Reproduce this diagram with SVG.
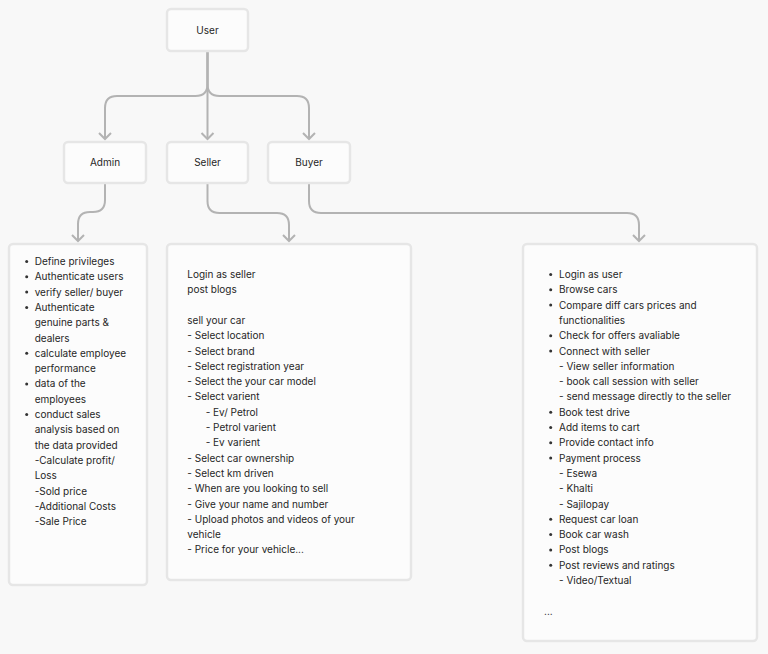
<svg xmlns="http://www.w3.org/2000/svg" width="768" height="654" viewBox="0 0 768 654">
<style>
.bg{fill:#f8f8f8}
.node rect{fill:#fcfcfc;stroke:#e6e6e6;stroke-width:2.5}
.lbl{font-family:Inter,"Liberation Sans",sans-serif;font-size:10px;fill:#262626;text-anchor:middle}
.t{font-family:Inter,"Liberation Sans",sans-serif;font-size:10px;fill:#262626}
.b{fill:#333}
.conn path{fill:none;stroke:#b3b3b3;stroke-width:2}
</style>
<defs>
<marker id="arr" markerUnits="userSpaceOnUse" markerWidth="16" markerHeight="16" viewBox="-8 -8 16 16" refX="0" refY="0" orient="auto">
<path d="M-6,-6 L0,0 L-6,6" fill="none" stroke="#b3b3b3" stroke-width="2"/>
</marker>
</defs>
<rect class="bg" x="0" y="0" width="768" height="654"/>
<g id="connectors" class="conn">
<path d="M207.5,51 V84 Q207.5,96 195.5,96 H117 Q105,96 105,108 V139" marker-end="url(#arr)"/>
<path d="M207.5,51 V139" marker-end="url(#arr)"/>
<path d="M207.5,51 V84 Q207.5,96 219.5,96 H297 Q309,96 309,108 V139" marker-end="url(#arr)"/>
<path d="M105,183 V200 Q105,212 93,212 H90 Q78,212 78,224 V241" marker-end="url(#arr)"/>
<path d="M207.5,183 V201 Q207.5,213 219.5,213 H277 Q289,213 289,225 V241" marker-end="url(#arr)"/>
<path d="M309,183 V201 Q309,213 321,213 H627 Q639,213 639,225 V241" marker-end="url(#arr)"/>
</g>
<g id="user" class="node"><rect x="167" y="9" width="81" height="42" rx="4"/><text class="lbl" x="207.5" y="33.5">User</text></g>
<g id="admin" class="node"><rect x="64" y="142" width="82" height="41" rx="4"/><text class="lbl" x="105" y="166">Admin</text></g>
<g id="seller" class="node"><rect x="167" y="142" width="81" height="41" rx="4"/><text class="lbl" x="207.5" y="166">Seller</text></g>
<g id="buyer" class="node"><rect x="268" y="142" width="82" height="41" rx="4"/><text class="lbl" x="309" y="166">Buyer</text></g>
<g id="admin-details" class="node">
<rect x="9" y="244" width="138" height="341" rx="4"/>
<circle class="b" cx="26.7" cy="261.5" r="1.5"/>
<circle class="b" cx="26.7" cy="276.8" r="1.5"/>
<circle class="b" cx="26.7" cy="292.1" r="1.5"/>
<circle class="b" cx="26.7" cy="307.4" r="1.5"/>
<circle class="b" cx="26.7" cy="353.3" r="1.5"/>
<circle class="b" cx="26.7" cy="383.9" r="1.5"/>
<circle class="b" cx="26.7" cy="414.5" r="1.5"/>
<text class="t" x="34.7" y="265">Define privileges</text>
<text class="t" x="34.7" y="280.3">Authenticate users</text>
<text class="t" x="34.7" y="295.6">verify seller/ buyer</text>
<text class="t" x="34.7" y="310.9">Authenticate</text>
<text class="t" x="34.7" y="326.2">genuine parts &amp;</text>
<text class="t" x="34.7" y="341.5">dealers</text>
<text class="t" x="34.7" y="356.8">calculate employee</text>
<text class="t" x="34.7" y="372.1">performance</text>
<text class="t" x="34.7" y="387.4">data of the</text>
<text class="t" x="34.7" y="402.7">employees</text>
<text class="t" x="34.7" y="418">conduct sales</text>
<text class="t" x="34.7" y="433.3">analysis based on</text>
<text class="t" x="34.7" y="448.6">the data provided</text>
<text class="t" x="34.7" y="463.9">-Calculate profit/</text>
<text class="t" x="34.7" y="479.2">Loss</text>
<text class="t" x="34.7" y="494.5">-Sold price</text>
<text class="t" x="34.7" y="509.8">-Additional Costs</text>
<text class="t" x="34.7" y="525.1">-Sale Price</text>
</g>
<g id="seller-details" class="node">
<rect x="167" y="244" width="244" height="336" rx="4"/>
<text class="t" x="187.3" y="278">Login as seller</text>
<text class="t" x="187.3" y="293.3">post blogs</text>
<text class="t" x="187.3" y="323.9">sell your car</text>
<text class="t" x="187.3" y="339.2">- Select location</text>
<text class="t" x="187.3" y="354.5">- Select brand</text>
<text class="t" x="187.3" y="369.8">- Select registration year</text>
<text class="t" x="187.3" y="385.1">- Select the your car model</text>
<text class="t" x="187.3" y="400.4">- Select varient</text>
<text class="t" x="205.7" y="415.7">- Ev/ Petrol</text>
<text class="t" x="205.7" y="431">- Petrol varient</text>
<text class="t" x="205.7" y="446.3">- Ev varient</text>
<text class="t" x="187.3" y="461.6">- Select car ownership</text>
<text class="t" x="187.3" y="476.9">- Select km driven</text>
<text class="t" x="187.3" y="492.2">- When are you looking to sell</text>
<text class="t" x="187.3" y="507.5">- Give your name and number</text>
<text class="t" x="187.3" y="522.8">- Upload photos and videos of your</text>
<text class="t" x="187.3" y="538.1">vehicle</text>
<text class="t" x="187.3" y="553.4">- Price for your vehicle...</text>
</g>
<g id="buyer-details" class="node">
<rect x="523" y="244" width="234" height="397" rx="4"/>
<circle class="b" cx="550.7" cy="274.5" r="1.5"/>
<circle class="b" cx="550.7" cy="289.8" r="1.5"/>
<circle class="b" cx="550.7" cy="305.1" r="1.5"/>
<circle class="b" cx="550.7" cy="335.7" r="1.5"/>
<circle class="b" cx="550.7" cy="351" r="1.5"/>
<circle class="b" cx="550.7" cy="412.2" r="1.5"/>
<circle class="b" cx="550.7" cy="427.5" r="1.5"/>
<circle class="b" cx="550.7" cy="442.8" r="1.5"/>
<circle class="b" cx="550.7" cy="458.1" r="1.5"/>
<circle class="b" cx="550.7" cy="519.3" r="1.5"/>
<circle class="b" cx="550.7" cy="534.6" r="1.5"/>
<circle class="b" cx="550.7" cy="549.9" r="1.5"/>
<circle class="b" cx="550.7" cy="565.2" r="1.5"/>
<text class="t" x="559" y="278">Login as user</text>
<text class="t" x="559" y="293.3">Browse cars</text>
<text class="t" x="559" y="308.6">Compare diff cars prices and</text>
<text class="t" x="559" y="323.9">functionalities</text>
<text class="t" x="559" y="339.2">Check for offers avaliable</text>
<text class="t" x="559" y="354.5">Connect with seller</text>
<text class="t" x="559" y="369.8">- View seller information</text>
<text class="t" x="559" y="385.1">- book call session with seller</text>
<text class="t" x="559" y="400.4">- send message directly to the seller</text>
<text class="t" x="559" y="415.7">Book test drive</text>
<text class="t" x="559" y="431">Add items to cart</text>
<text class="t" x="559" y="446.3">Provide contact info</text>
<text class="t" x="559" y="461.6">Payment process</text>
<text class="t" x="559" y="476.9">- Esewa</text>
<text class="t" x="559" y="492.2">- Khalti</text>
<text class="t" x="559" y="507.5">- Sajilopay</text>
<text class="t" x="559" y="522.8">Request car loan</text>
<text class="t" x="559" y="538.1">Book car wash</text>
<text class="t" x="559" y="553.4">Post blogs</text>
<text class="t" x="559" y="568.7">Post reviews and ratings</text>
<text class="t" x="559" y="584">- Video/Textual</text>
<text class="t" x="544" y="614.6">...</text>
</g>
</svg>
